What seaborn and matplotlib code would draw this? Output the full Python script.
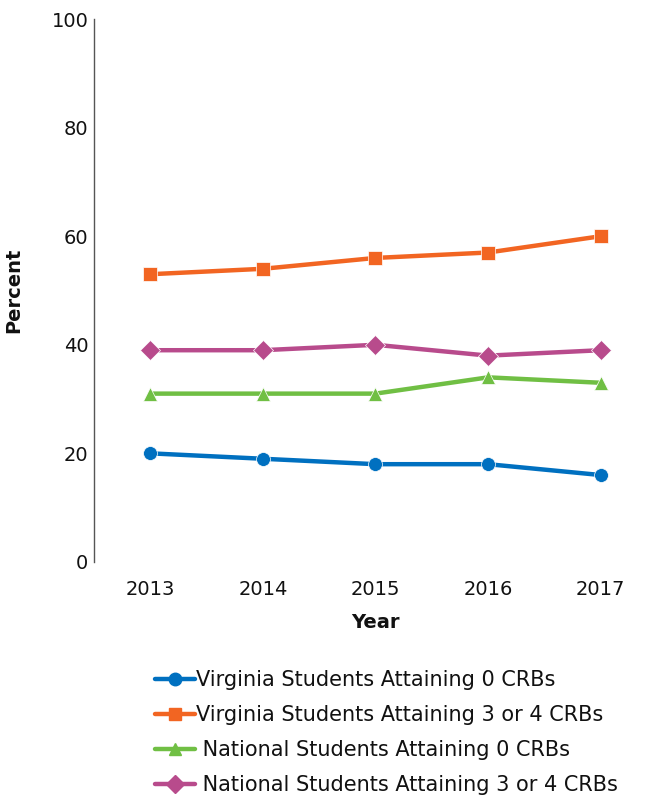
import matplotlib
matplotlib.use("Agg")
import pandas as pd
import matplotlib.pyplot as plt
import seaborn as sns

years = [2013, 2014, 2015, 2016, 2017]
va_zero = [20, 19, 18, 18, 16]
va_three_four = [53, 54, 56, 57, 60]
nat_zero = [31, 31, 31, 34, 33]
nat_three_four = [39, 39, 40, 38, 39]

series_names = [
    "Virginia Students Attaining 0 CRBs",
    "Virginia Students Attaining 3 or 4 CRBs",
    " National Students Attaining 0 CRBs",
    " National Students Attaining 3 or 4 CRBs",
]
colors = ["#0070C0", "#F26522", "#70BF44", "#B84B8C"]
markers = ["o", "s", "^", "D"]

rows = []
for name, vals in zip(series_names, [va_zero, va_three_four, nat_zero, nat_three_four]):
    for y, v in zip(years, vals):
        rows.append({"Year": y, "Percent": v, "Series": name})
df = pd.DataFrame(rows)

sns.set_style("white")
plt.rcParams['font.family'] = ['DejaVu Sans']

fig = plt.figure(figsize=(6.57, 7.97), dpi=100)
ax = fig.add_axes([0.143, 0.295, 0.857, 0.681])

sns.lineplot(data=df, x="Year", y="Percent", hue="Series", style="Series",
             palette=colors, markers=markers, dashes=False, linewidth=3.2,
             markersize=10, markeredgewidth=0.5, ax=ax, legend=False)

ax.set_xlim(2012.5, 2017.5)
ax.set_ylim(0, 100)
ax.set_xticks(years)
ax.set_yticks([0, 20, 40, 60, 80, 100])
ax.tick_params(axis="both", labelsize=14, length=0, labelcolor="#111111")
ax.tick_params(axis="y", pad=4)
ax.tick_params(axis="x", pad=13)
ax.set_xlabel("Year", fontsize=14, fontweight="bold", color="#111111")
ax.set_ylabel("Percent", fontsize=14, fontweight="bold", color="#111111")
ax.xaxis.set_label_coords(0.5, -0.095)
ax.yaxis.set_label_coords(-0.125, 0.5)
for s in ["top", "right", "bottom"]:
    ax.spines[s].set_visible(False)
ax.spines["left"].set_color("#555555")
ax.spines["left"].set_linewidth(1)

handles = [plt.Line2D([], [], color=c, marker=m, linewidth=3.2, markersize=9)
           for c, m in zip(colors, markers)]
fig.legend(handles, series_names, loc="upper left", bbox_to_anchor=(0.22, 0.172),
           frameon=False, fontsize=15, handlelength=1.9, handletextpad=0.05,
           labelspacing=0.72, borderpad=0, labelcolor="#111111")

fig.savefig("out.png", dpi=100)
